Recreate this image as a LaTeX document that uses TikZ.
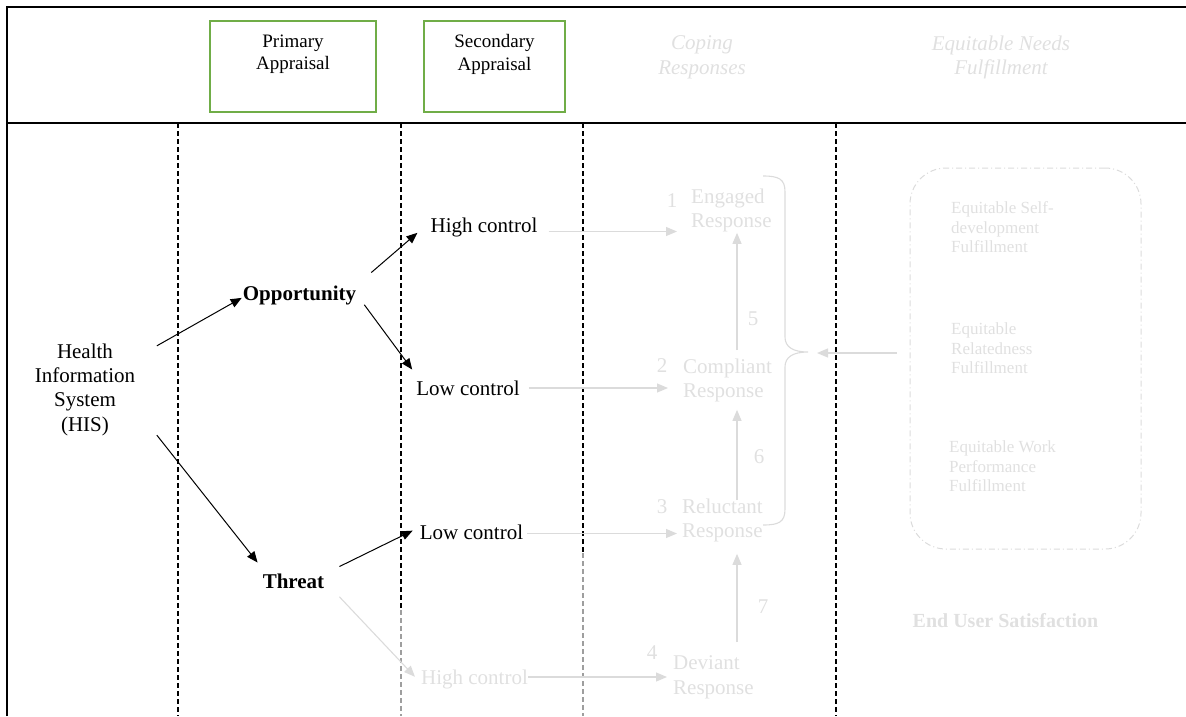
\documentclass[tikz,border=0pt]{standalone}
\usepackage{fontspec}
\setmainfont{Liberation Serif}
\usetikzlibrary{arrows.meta}

\definecolor{fade}{gray}{0.88}
\definecolor{fadeline}{gray}{0.86}
\definecolor{colgrey}{gray}{0.62}
\definecolor{apgreen}{HTML}{70AD47}

\tikzset{
  body/.style={font=\fontsize{21}{24.3}\selectfont, inner sep=0pt},
  bodybf/.style={font=\fontsize{21}{24.3}\selectfont\bfseries, inner sep=0pt},
  bodyit/.style={font=\fontsize{21}{24.3}\selectfont\itshape, inner sep=0pt},
  hdr/.style={font=\fontsize{19}{22.5}\selectfont, inner sep=0pt, align=center},
  small/.style={font=\fontsize{17}{19.6}\selectfont, inner sep=0pt, align=left,
                text=fade, anchor=north west},
  faint/.style={text=fade},
  resp/.style={body, faint, align=left, anchor=north west},
  num/.style={body, faint, anchor=base},
  arr/.style={draw=black, line width=1pt, -{Triangle[length=11pt,width=9pt]}},
  farr/.style={draw=fadeline, line width=1.1pt, -{Triangle[length=11pt,width=9pt]}},
  colsep/.style={line width=1.6pt, dash pattern=on 5pt off 3pt},
  gbox/.style={draw=apgreen, line width=1.5pt, minimum height=91pt, inner sep=0pt},
  framing/.style={line width=2.2pt},
  needsbox/.style={draw=fadeline, line width=1pt,
                   dash pattern=on 6pt off 3pt on 1pt off 3pt,
                   rounded corners=36pt, minimum width=231pt,
                   minimum height=381pt, inner sep=0pt},
}

\begin{document}
\begin{tikzpicture}[x=1pt, y=-1pt]
\useasboundingbox (0,0) rectangle (1186,716);

% outer frame and header rule
\draw[framing] (7,716) -- (7,7) -- (1190,7);
\draw[framing] (7,123) -- (1190,123);

% column separators
\draw[colsep] (178,123) -- (178,716);
\draw[colsep] (401,123) -- (401,610);
\draw[colsep, colgrey] (401,610) -- (401,716);
\draw[colsep] (583,123) -- (583,553);
\draw[colsep, colgrey] (583,553) -- (583,716);
\draw[colsep] (836,123) -- (836,716);

% header row
\node[gbox, minimum width=166pt] (prim) at (293,66.5) {};
\node[gbox, minimum width=141pt] (sec) at (494.5,66.5) {};
\node[hdr, anchor=north] (primtxt) at ([yshift=-14pt]prim.north) {Primary\\Appraisal};
\node[hdr, anchor=north] (sectxt) at ([yshift=-14pt]sec.north) {Secondary\\Appraisal};
\node[bodyit, faint, align=center, anchor=north] (coping) at (702,35.7) {Coping\\Responses};
\node[bodyit, faint, align=center, anchor=north] (needshd) at (1001,35.7) {Equitable Needs\\Fulfillment};

% appraisal nodes
\node[body, align=center] (his) at (85,389.5) {Health\\Information\\System\\(HIS)};
\node[bodybf, anchor=base] (opp) at (299.5,300) {Opportunity};
\node[bodybf, anchor=base] (thr) at (293.5,588) {Threat};
\node[body, anchor=base] (hca) at (484,232) {High control};
\node[body, anchor=base] (lca) at (468,395) {Low control};
\node[body, anchor=base] (lcb) at (471.5,539) {Low control};
\node[body, faint, anchor=base] (hcb) at (474.5,684) {High control};

% coping responses
\node[resp] (eng) at (691,188.7) {Engaged\\Response};
\node[resp] (com) at (683,358.7) {Compliant\\Response};
\node[resp] (rel) at (682,498.7) {Reluctant\\Response};
\node[resp] (dev) at (673,655.7) {Deviant\\Response};
\node[num] (n1) at (672,207) {1};
\node[num] (n2) at (662,372) {2};
\node[num] (n3) at (662,513) {3};
\node[num] (n4) at (652,659) {4};
\node[num] (n5) at (753,325) {5};
\node[num] (n6) at (759,463) {6};
\node[num] (n7) at (763,613) {7};

% equitable needs fulfillment
\node[needsbox] (needs) at (1025.5,358.5) {};
\node[small] (eq1) at (951,201.4) {Equitable Self-\\development\\Fulfillment};
\node[small] (eq2) at (951,322.4) {Equitable\\Relatedness\\Fulfillment};
\node[small] (eq3) at (949,440.4) {Equitable Work\\Performance\\Fulfillment};
\node[font=\fontsize{20}{24}\selectfont\bfseries, inner sep=0pt, faint, anchor=base] (eus) at (1005.5,627) {End User Satisfaction};

% brace grouping the responses
\coordinate (btip) at (808,352);
\draw[fadeline, line width=1.1pt] (763,176) .. controls (779,176) and (785,179) .. (785,192)
  -- (785,337) .. controls (785,347) and (793,352) .. (btip)
  .. controls (793,352) and (785,357) .. (785,367)
  -- (785,509) .. controls (785,522) and (779,525) .. (763,525);
\draw[farr] ([xshift=-13pt,yshift=5.5pt]needs.west) -- ([xshift=9pt,yshift=-1pt]btip);

% appraisal arrows
\draw[arr] ([xshift=21.5pt,yshift=-2.5pt]his.north east) -- ([xshift=-1pt,yshift=-2.9pt]opp.west);
\draw[arr] ([xshift=21.5pt,yshift=0.5pt]his.south east) -- ([xshift=-5pt,yshift=10.7pt]thr.north west);
\draw[arr] ([xshift=15pt,yshift=12.7pt]opp.north east) -- ([xshift=-13pt,yshift=-5.8pt]hca.west);
\draw[arr] ([xshift=8pt]opp.south east) -- ([xshift=-4pt,yshift=10.7pt]lca.north west);
\draw[arr] ([xshift=15pt,yshift=6.7pt]thr.north east) -- ([xshift=-7pt,yshift=1.2pt]lcb.west);
\draw[farr] ([xshift=15pt,yshift=-8.4pt]thr.south east) -- ([xshift=-6pt,yshift=2.2pt]hcb.west);

% control level to coping response (level with each label)
\draw[farr, transform canvas={yshift=0.5pt}] ([xshift=11pt]hca.base east) -- ([xshift=-14pt]eng.west |- hca.base east);
\draw[farr, transform canvas={yshift=7pt}] ([xshift=9pt]lca.base east) -- ([xshift=-15pt]com.west |- lca.base east);
\draw[farr, transform canvas={yshift=5.5pt}] ([xshift=4pt]lcb.base east) -- ([xshift=-5pt]rel.west |- lcb.base east);
\draw[farr, transform canvas={yshift=7pt}] (hcb.base east) -- ([xshift=-6pt]dev.west |- hcb.base east);

% transitions between responses
\draw[farr] ([xshift=54pt,yshift=8.7pt]com.north west) -- ([xshift=46pt,yshift=-0.4pt]eng.south west);
\draw[farr] ([xshift=55pt,yshift=-1.3pt]rel.north west) -- ([xshift=54pt,yshift=-7.4pt]com.south west);
\draw[farr] ([xshift=64pt,yshift=13.7pt]dev.north west) -- ([xshift=55pt,yshift=-11.4pt]rel.south west);
\end{tikzpicture}
\end{document}
